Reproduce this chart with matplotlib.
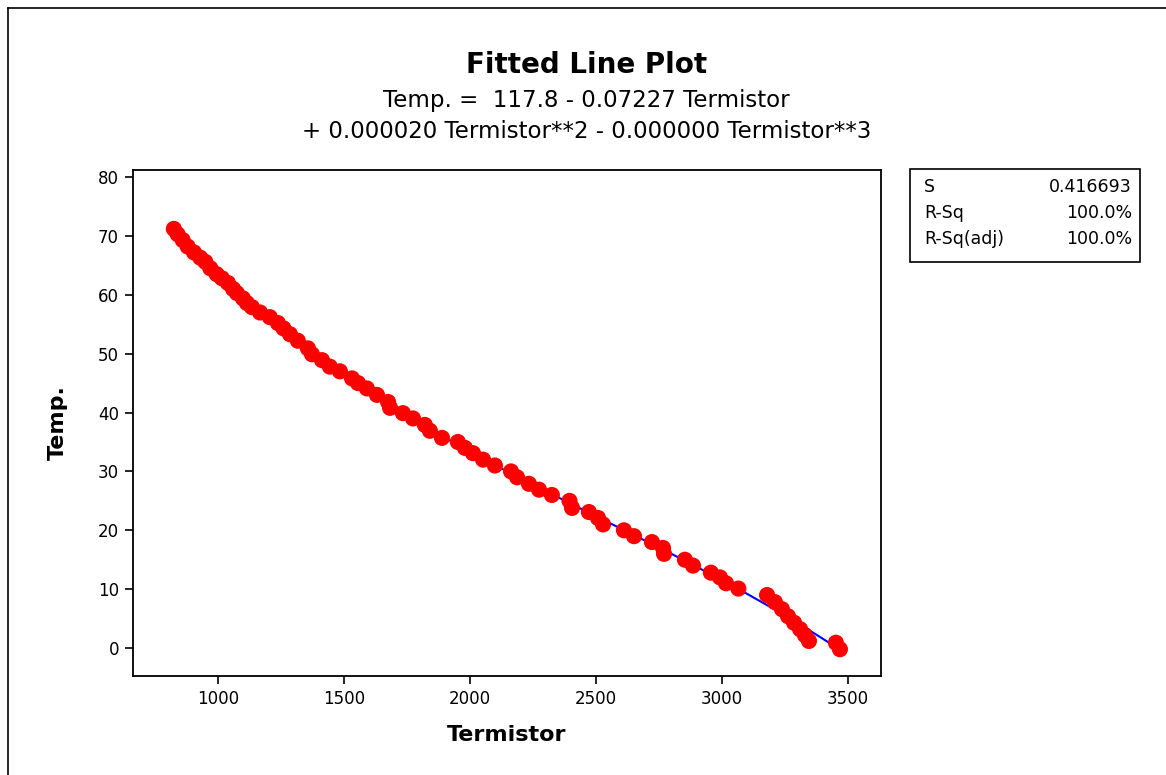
import numpy as np
import matplotlib
matplotlib.use("Agg")
import matplotlib.pyplot as plt
from matplotlib.lines import Line2D

plt.rcParams['font.family'] = ['DejaVu Sans']

# Thermistor reading vs. measured temperature
termistor = [825, 840, 860, 880, 905, 930, 950, 970, 995, 1016, 1040, 1060,
             1075, 1099, 1115, 1135, 1167, 1206, 1238, 1260, 1286, 1317, 1357,
             1373, 1413, 1444, 1484, 1532, 1556, 1591, 1631, 1675, 1683, 1734,
             1774, 1821, 1841, 1889, 1952, 1980, 2012, 2052, 2099, 2163, 2187,
             2234, 2274, 2325, 2395, 2405, 2472, 2508, 2528, 2611, 2651, 2722,
             2766, 2770, 2853, 2885, 2956, 2992, 3016, 3065, 3179, 3210, 3238,
             3262, 3286, 3310, 3329, 3345, 3452, 3468]
temp = [71.2, 70.3, 69.3, 68.2, 67.2, 66.3, 65.6, 64.5, 63.5, 62.8, 62.0, 61.0,
        60.3, 59.4, 58.6, 57.9, 57.0, 56.2, 55.2, 54.3, 53.3, 52.2, 50.9,
        49.9, 48.9, 47.8, 47.0, 45.8, 45.0, 44.1, 43.0, 41.8, 40.8, 39.9,
        39.0, 37.9, 36.9, 35.7, 35.0, 34.0, 33.1, 32.0, 31.0, 30.0, 29.0,
        27.9, 26.9, 26.0, 25.0, 23.8, 23.1, 22.1, 21.0, 20.0, 19.0, 18.0,
        17.0, 16.0, 15.0, 14.0, 12.8, 12.0, 11.0, 10.1, 9.0, 7.8, 6.6,
        5.4, 4.3, 3.2, 2.2, 1.2, 0.9, -0.2]

x_ticks = [1000, 1500, 2000, 2500, 3000, 3500]
y_ticks = [0, 10, 20, 30, 40, 50, 60, 70, 80]

stat_names = ["S", "R-Sq", "R-Sq(adj)"]
stat_values = ["0.416693", "100.0%", "100.0%"]

x = np.array(termistor, dtype=float)
y = np.array(temp, dtype=float)

# cubic regression line
coef = np.polyfit(x, y, 3)
xf = np.linspace(x.min(), x.max(), 300)
yf = np.polyval(coef, xf)

W, H = 1166, 775
fig = plt.figure(figsize=(W / 100, H / 100), dpi=100)
ax = fig.add_axes([133 / W, 1 - 676 / H, (881 - 133) / W, (676 - 170) / H])

ax.plot(xf, yf, color="#0000ff", lw=1.5, zorder=2)
ax.scatter(x, y, s=135, color="#ff0000", edgecolors="none", zorder=3)

ax.set_xlim(663, 3631)
ax.set_ylim(-4.75, 81.2)
ax.set_xticks(x_ticks)
ax.set_yticks(y_ticks)
ax.tick_params(axis="both", direction="out", length=6, width=1.2,
               labelsize=12, top=False, right=False, pad=4)
for sp in ax.spines.values():
    sp.set_linewidth(1.3)

ax.set_xlabel("Termistor", fontsize=16, fontweight="bold", labelpad=12)
ax.set_ylabel("Temp.", fontsize=16, fontweight="bold", labelpad=22)

fig.text(0.503, 1 - 65 / H, "Fitted Line Plot", ha="center", va="center",
         fontsize=20, fontweight="bold")
fig.text(0.503, 1 - 100 / H, "Temp. =  117.8 - 0.07227 Termistor", ha="center",
         va="center", fontsize=16.5)
fig.text(0.503, 1 - 132 / H, "+ 0.000020 Termistor**2 - 0.000000 Termistor**3",
         ha="center", va="center", fontsize=16.5)

# statistics box
bx0, bx1 = 910 / W, 1140 / W
by0, by1 = 1 - 262 / H, 1 - 169 / H
fig.patches.append(plt.Rectangle((bx0, by0), bx1 - bx0, by1 - by0,
                                 transform=fig.transFigure, fill=False,
                                 edgecolor="black", lw=1.2))
rows_y = [187, 213, 239]
for name, val, ry in zip(stat_names, stat_values, rows_y):
    fig.text(924 / W, 1 - ry / H, name, ha="left", va="center", fontsize=12.5)
    fig.text(1132 / W, 1 - ry / H, val, ha="right", va="center", fontsize=12.5)

# outer frame (left and top edges)
fig.lines.append(Line2D([8 / W, 8 / W], [0, 1 - 8 / H],
                        transform=fig.transFigure, color="black", lw=1.2))
fig.lines.append(Line2D([8 / W, 1], [1 - 8 / H, 1 - 8 / H],
                        transform=fig.transFigure, color="black", lw=1.2))

fig.savefig("out.png", dpi=100)
